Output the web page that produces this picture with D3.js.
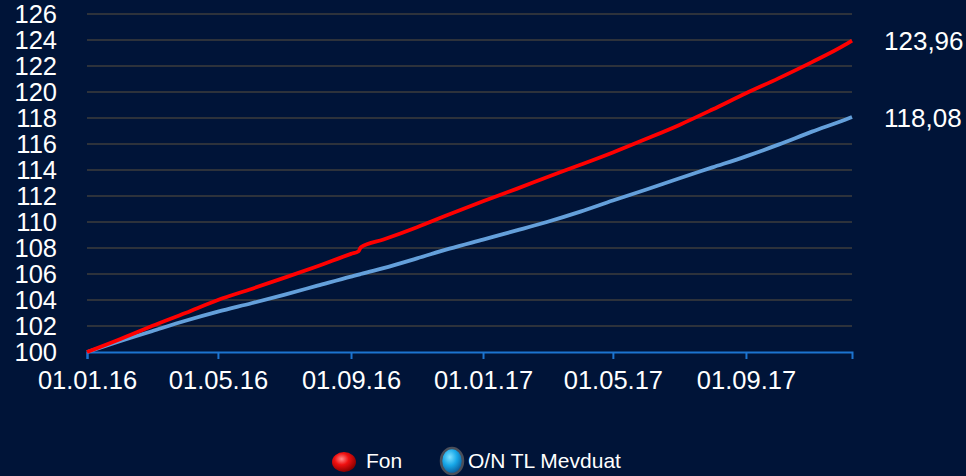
<!DOCTYPE html>
<html>
<head>
<meta charset="utf-8">
<script src="https://cdn.jsdelivr.net/npm/d3@7"></script>
<style>
  html, body { margin: 0; padding: 0; background: #001438; }
  svg { display: block; font-family: "Liberation Sans", Arial, sans-serif; }
</style>
</head>
<body>
<svg id="chart"></svg>
<script>
// Fund vs overnight TL deposit, indexed to 100

const dates = [
  "2016-01-01", "2016-02-01", "2016-03-01", "2016-04-01", "2016-05-01", "2016-06-01",
  "2016-07-01", "2016-08-01", "2016-09-01", "2016-09-08", "2016-09-10", "2016-10-01",
  "2016-11-01", "2016-12-01", "2017-01-01", "2017-02-01", "2017-03-01", "2017-04-01",
  "2017-05-01", "2017-06-01", "2017-07-01", "2017-08-01", "2017-09-01", "2017-10-01",
  "2017-11-01", "2017-12-01", "2017-12-08"
];
const fonValues = [
  100.0, 101.0, 102.0, 103.0, 104.0, 104.85,
  105.7, 106.6, 107.55, 107.75, 108.05, 108.65,
  109.6, 110.6, 111.6, 112.55, 113.45, 114.4,
  115.35, 116.4, 117.45, 118.65, 119.9, 121.05,
  122.3, 123.6, 123.96
];
const mevduatValues = [
  100.0, 100.85, 101.6, 102.4, 103.1, 103.75,
  104.4, 105.1, 105.8, 105.95, 106.0, 106.45,
  107.2, 107.95, 108.65, 109.35, 110.0, 110.8,
  111.65, 112.5, 113.35, 114.2, 115.05, 115.95,
  116.95, 117.85, 118.08
];
const xTickDates = ["2016-01-01", "2016-05-01", "2016-09-01", "2017-01-01", "2017-05-01", "2017-09-01"];
const yTicks = [100, 102, 104, 106, 108, 110, 112, 114, 116, 118, 120, 122, 124, 126];
const seriesNames = ["Fon", "O/N TL Mevduat"];
const endLabels = ["123,96", "118,08"];

const width = 966, height = 476;
const parse = d3.timeParse("%Y-%m-%d");

const svg = d3.select("#chart").attr("width", width).attr("height", height);
svg.append("rect").attr("width", width).attr("height", height).attr("fill", "#001438");

const plotLeft = 87, plotRight = 852, plotTop = 14, plotBottom = 352;

const x = d3.scaleTime()
  .domain([parse(dates[0]), parse(dates[dates.length - 1])])
  .range([plotLeft, plotRight]);

const y = d3.scaleLinear()
  .domain([100, 126])
  .range([plotBottom, plotTop]);

// horizontal gridlines
svg.append("g")
  .selectAll("line")
  .data(yTicks.filter(d => d > 100))
  .enter()
  .append("line")
  .attr("x1", plotLeft)
  .attr("x2", plotRight)
  .attr("y1", d => y(d))
  .attr("y2", d => y(d))
  .attr("stroke", "#3d3d3d")
  .attr("stroke-width", 1.6);

// y labels
svg.append("g")
  .selectAll("text")
  .data(yTicks)
  .enter()
  .append("text")
  .attr("x", 57)
  .attr("y", d => y(d))
  .attr("dy", "0.36em")
  .attr("text-anchor", "end")
  .attr("fill", "#ffffff")
  .attr("font-size", 25.5)
  .text(d => d);

// x axis
const xAxis = d3.axisBottom(x)
  .tickValues(xTickDates.map(parse))
  .tickFormat(d3.timeFormat("%d.%m.%y"))
  .tickSize(7)
  .tickPadding(12);

const gx = svg.append("g")
  .attr("transform", "translate(0," + plotBottom + ")")
  .call(xAxis);

gx.select(".domain").attr("stroke", "#1c74d0").attr("stroke-width", 2);
gx.selectAll(".tick line").attr("stroke", "#1c74d0").attr("stroke-width", 2);
gx.selectAll(".tick text")
  .attr("fill", "#ffffff")
  .attr("font-size", 25.5)
  .attr("font-family", "Liberation Sans, Arial, sans-serif");

// lines
const series = [
  {name: seriesNames[0], values: fonValues, color: "#ff0000"},
  {name: seriesNames[1], values: mevduatValues, color: "#64a0db"}
];

const line = d3.line()
  .x((d, i) => x(parse(dates[i])))
  .y(d => y(d))
  .curve(d3.curveMonotoneX);

series.slice().reverse().forEach(s => {
  svg.append("path")
    .datum(s.values)
    .attr("d", line)
    .attr("fill", "none")
    .attr("stroke", s.color)
    .attr("stroke-width", 3.8)
    .attr("stroke-linejoin", "round");
});

// end value labels
series.forEach((s, i) => {
  svg.append("text")
    .attr("x", 884)
    .attr("y", y(s.values[s.values.length - 1]))
    .attr("dy", "0.38em")
    .attr("fill", "#ffffff")
    .attr("font-size", 26)
    .text(endLabels[i]);
});

// legend
const defs = svg.append("defs");

const redGrad = defs.append("radialGradient")
  .attr("id", "redBall").attr("cx", "40%").attr("cy", "35%").attr("r", "65%");
redGrad.append("stop").attr("offset", "0%").attr("stop-color", "#ff8a8a");
redGrad.append("stop").attr("offset", "45%").attr("stop-color", "#f01010");
redGrad.append("stop").attr("offset", "100%").attr("stop-color", "#8a0000");

const blueGrad = defs.append("radialGradient")
  .attr("id", "blueBall").attr("cx", "40%").attr("cy", "35%").attr("r", "65%");
blueGrad.append("stop").attr("offset", "0%").attr("stop-color", "#7fe0ff");
blueGrad.append("stop").attr("offset", "50%").attr("stop-color", "#18a8e8");
blueGrad.append("stop").attr("offset", "100%").attr("stop-color", "#0a5a9a");

const legend = svg.append("g");

legend.append("ellipse")
  .attr("cx", 344).attr("cy", 462).attr("rx", 12).attr("ry", 10)
  .attr("fill", "url(#redBall)");
legend.append("text")
  .attr("x", 366).attr("y", 468)
  .attr("fill", "#ffffff").attr("font-size", 21)
  .text(seriesNames[0]);

legend.append("ellipse")
  .attr("cx", 452).attr("cy", 461).attr("rx", 11).attr("ry", 13)
  .attr("fill", "url(#blueBall)")
  .attr("stroke", "#4a4f5a").attr("stroke-width", 2.5);
legend.append("text")
  .attr("x", 468).attr("y", 468)
  .attr("fill", "#ffffff").attr("font-size", 21)
  .text(seriesNames[1]);
</script>
</body>
</html>
